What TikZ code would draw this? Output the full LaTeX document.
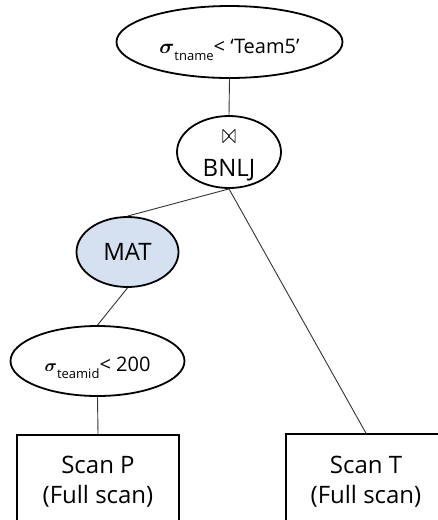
\documentclass[tikz,border=0pt]{standalone}
\usepackage{amsmath}
\usepackage{graphicx}
\usepackage{fontspec}
\setmainfont{Open Sans}
\usetikzlibrary{shapes.geometric}
\definecolor{matblue}{RGB}{213,224,240}
\begin{document}
\begin{tikzpicture}[x=1pt,y=-1pt,
  oval/.style={ellipse,draw=black,line width=1.8pt,inner sep=0pt},
  boxnode/.style={rectangle,draw=black,line width=1.6pt,align=center,font=\fontsize{24}{30}\selectfont},
  link/.style={draw=black!80,line width=0.9pt},
  big/.style={font=\fontsize{24}{30}\selectfont},
  mid/.style={font=\fontsize{20}{24}\selectfont},
  bare/.style={inner sep=0pt}]
\useasboundingbox (0,0) rectangle (438,520);
\clip (0,0) rectangle (438,520);
\node[oval,minimum width=226pt,minimum height=72pt,mid] (top) at (229.5,42)
  {\raisebox{0pt}[22pt][0pt]{{\fontsize{20}{20}\selectfont$\boldsymbol{\sigma}$}\raisebox{-7pt}{\fontsize{13}{13}\selectfont tname}< ‘Team5’}};
\node[oval,minimum width=104pt,minimum height=72pt] (bnlj) at (229,152) {};
\node[bare] (bnljsym) at (229,136.5) {\resizebox{14pt}{13pt}{$\bowtie$}};
\node[bare,big,anchor=base] (bnljtxt) at (229,176) {BNLJ};
\node[oval,fill=matblue,minimum width=102pt,minimum height=70pt,big] (mat) at (127.5,252) {MAT};
\node[oval,minimum width=174pt,minimum height=70pt,mid] (sel) at (97.5,361)
  {\raisebox{0pt}[20pt][0pt]{{\fontsize{17}{17}\selectfont$\boldsymbol{\sigma}$}\raisebox{-7pt}{\fontsize{13}{13}\selectfont teamid}< 200}};
\node[boxnode,minimum width=162pt,minimum height=94pt] (scanp) at (98,482) {Scan P\\(Full scan)};
\node[boxnode,minimum width=160pt,minimum height=96pt] (scant) at (366,482) {Scan T\\(Full scan)};
\draw[link] (top.south) -- (bnlj.north);
\draw[link] (bnlj.south) -- (mat.north);
\draw[link] (bnlj.south) -- (scant.north);
\draw[link] (mat.south) -- (sel.north);
\draw[link] (sel.south) -- (scanp.north);
\end{tikzpicture}
\end{document}
